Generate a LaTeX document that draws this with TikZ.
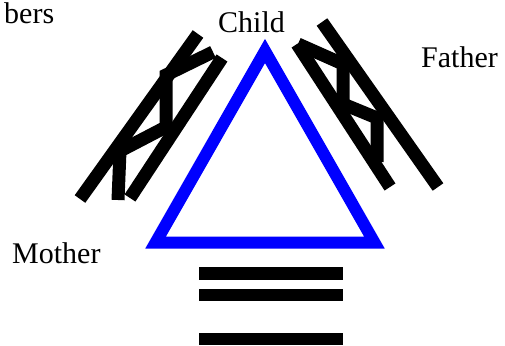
\documentclass[tikz,border=0pt]{standalone}
\usepackage{fontspec}
\setmainfont{Liberation Serif}
\usetikzlibrary{positioning}
\tikzset{
  tag/.style={inner sep=0pt, anchor=base west, font=\fontsize{30}{34}\selectfont},
  rail/.style={line width=13pt, black},
  rung/.style={line width=13pt, black, line join=miter},
  bar/.style={line width=12.5pt, black},
  tri/.style={line width=12pt, blue, line join=miter}
}
\begin{document}
\begin{tikzpicture}[x=1pt,y=-1pt]
  \useasboundingbox (0,0) rectangle (505,345);
  % labels
  \node[tag] (mem) at (4,24) {bers};
  \node[tag] (child) at (218,33) {Child};
  \node[tag] (father) at (421,67) {Father};
  \node[tag] (mother) at (12,263) {Mother};
  % triangle
  \coordinate (top) at (265,51);
  \coordinate (bl) at (155.6,242.5);
  \coordinate (br) at (374.4,242.5);
  \draw[tri] (bl) -- (top) -- (br) -- cycle;
  % mother side ladder
  \draw[rail] (80,199) -- (198,34);
  \draw[rail] (130,198) -- (222,58);
  \draw[rung] (213,52) -- (166,75) -- (166,127) -- (120,151) -- (118,200);
  % father side ladder
  \draw[rail] (322,22) -- (438,187);
  \draw[rail] (297,44) -- (390,187);
  \draw[rung] (298,44) -- (343,64) -- (343,104) -- (377,118) -- (377,162);
  % bars
  \foreach \y in {273.5,295,339}
    \draw[bar] (199,\y) -- (343,\y);
\end{tikzpicture}
\end{document}
